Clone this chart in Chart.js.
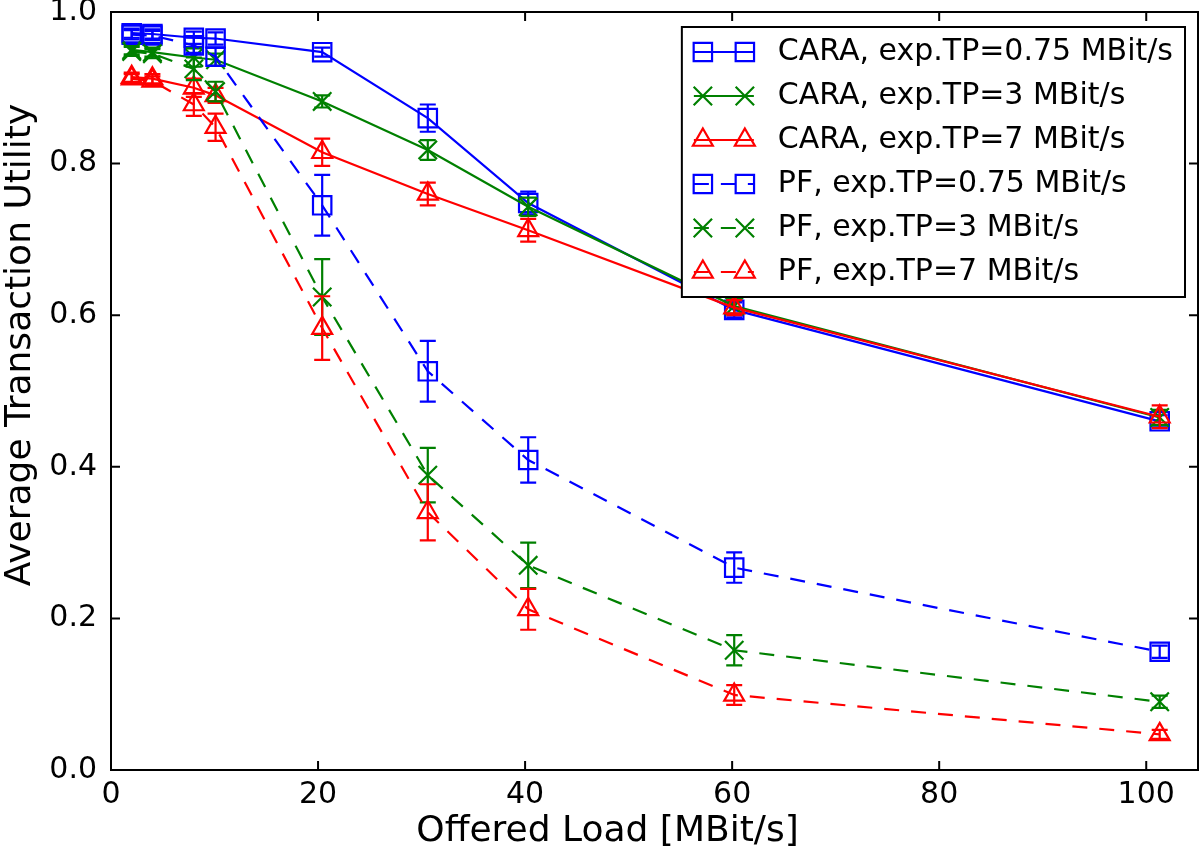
<!DOCTYPE html>
<html>
<head>
<meta charset="utf-8">
<title>Average Transaction Utility vs Offered Load</title>
<script src="https://cdn.jsdelivr.net/npm/chart.js@4.4.1/dist/chart.umd.min.js"></script>
<style>
  html, body { margin: 0; padding: 0; background: #fff; overflow: hidden; }
  #box { width: 1200px; height: 850px; }
  canvas { display: block; }
</style>
</head>
<body>
<div id="box"><canvas id="chart" width="1200" height="850"></canvas></div>
<script>
// offered load (x) shared by every series
const loads = [2, 4, 8, 10.1, 20.4, 30.6, 40.3, 60.2, 101.3];

const caraLow     = [0.972, 0.971, 0.966, 0.965, 0.947, 0.860, 0.748, 0.607, 0.460];
const caraLowErr  = [0.006, 0.006, 0.008, 0.008, 0.006, 0.018, 0.015, 0.010, 0.008];
const caraMid     = [0.950, 0.947, 0.940, 0.937, 0.882, 0.818, 0.743, 0.612, 0.465];
const caraMidErr  = [0.006, 0.006, 0.012, 0.008, 0.008, 0.013, 0.012, 0.010, 0.010];
const caraHigh    = [0.914, 0.912, 0.900, 0.890, 0.815, 0.760, 0.712, 0.610, 0.466];
const caraHighErr = [0.006, 0.006, 0.012, 0.010, 0.018, 0.015, 0.015, 0.010, 0.015];
const pfLow       = [0.970, 0.969, 0.956, 0.941, 0.745, 0.526, 0.409, 0.267, 0.156];
const pfLowErr    = [0.006, 0.006, 0.010, 0.012, 0.040, 0.040, 0.030, 0.020, 0.008];
const pfMid       = [0.948, 0.945, 0.925, 0.895, 0.624, 0.389, 0.270, 0.158, 0.090];
const pfMidErr    = [0.006, 0.006, 0.015, 0.013, 0.050, 0.036, 0.030, 0.020, 0.008];
const pfHigh      = [0.912, 0.909, 0.878, 0.848, 0.583, 0.340, 0.212, 0.099, 0.047];
const pfHighErr   = [0.006, 0.006, 0.015, 0.018, 0.042, 0.037, 0.027, 0.013, 0.006];

const xTicks = [0, 20, 40, 60, 80, 100];
const yTicks = [0.0, 0.2, 0.4, 0.6, 0.8, 1.0];
const xTitle = "Offered Load [MBit/s]";
const yTitle = "Average Transaction Utility";

const FONT = "'DejaVu Sans', 'Liberation Sans', sans-serif";
const BLUE = "#0000ff", GREEN = "#008000", RED = "#ff0000";
const DASH = [15, 12];
const LW = 2.2;

function series(label, ys, errs, color, style, radius, dashed) {
  return {
    label,
    data: loads.map((x, i) => ({ x, y: ys[i] })),
    errors: errs,
    borderColor: color,
    backgroundColor: color,
    borderWidth: LW,
    borderDash: dashed ? DASH : [],
    pointStyle: style,
    pointRadius: radius,
    pointHoverRadius: radius,
    pointBorderColor: color,
    pointBackgroundColor: "rgba(0,0,0,0)",
    pointBorderWidth: LW,
    fill: false,
    tension: 0,
    clip: false,
  };
}

const datasets = [
  series("CARA, exp.TP=0.75 MBit/s", caraLow, caraLowErr, BLUE, "rect", 13, false),
  series("CARA, exp.TP=3 MBit/s", caraMid, caraMidErr, GREEN, "crossRot", 13, false),
  series("CARA, exp.TP=7 MBit/s", caraHigh, caraHighErr, RED, "triangle", 11.5, false),
  series("PF, exp.TP=0.75 MBit/s", pfLow, pfLowErr, BLUE, "rect", 13, true),
  series("PF, exp.TP=3 MBit/s", pfMid, pfMidErr, GREEN, "crossRot", 13, true),
  series("PF, exp.TP=7 MBit/s", pfHigh, pfHighErr, RED, "triangle", 11.5, true),
];
// later series on top, like the original plot
datasets.forEach((d, i) => (d.order = datasets.length - 1 - i));

// vertical error bars with caps
const errorBars = {
  id: "errorBars",
  afterDatasetDraw(chart, args) {
    const ds = chart.data.datasets[args.index];
    if (!ds.errors) return;
    const { ctx, scales: { x, y } } = chart;
    ctx.save();
    ctx.strokeStyle = ds.borderColor;
    ctx.lineWidth = LW;
    ctx.setLineDash([]);
    ds.data.forEach((p, i) => {
      const e = ds.errors[i];
      const px = x.getPixelForValue(p.x);
      const y1 = y.getPixelForValue(p.y - e);
      const y2 = y.getPixelForValue(p.y + e);
      ctx.beginPath();
      ctx.moveTo(px, y1); ctx.lineTo(px, y2);
      ctx.moveTo(px - 8, y1); ctx.lineTo(px + 8, y1);
      ctx.moveTo(px - 8, y2); ctx.lineTo(px + 8, y2);
      ctx.stroke();
    });
    ctx.restore();
  }
};

// box round the plot with inward ticks on all four sides, plus axis titles
const frame = {
  id: "frame",
  afterDatasetsDraw(chart) {
    const { ctx, chartArea: a, scales: { x, y } } = chart;
    const t = 9;
    ctx.save();
    ctx.strokeStyle = "#000";
    ctx.lineWidth = 2;
    ctx.setLineDash([]);
    ctx.strokeRect(a.left, a.top, a.right - a.left, a.bottom - a.top);
    ctx.beginPath();
    xTicks.forEach(v => {
      const px = x.getPixelForValue(v);
      ctx.moveTo(px, a.bottom); ctx.lineTo(px, a.bottom - t);
      ctx.moveTo(px, a.top); ctx.lineTo(px, a.top + t);
    });
    yTicks.forEach(v => {
      const py = y.getPixelForValue(v);
      ctx.moveTo(a.left, py); ctx.lineTo(a.left + t, py);
      ctx.moveTo(a.right, py); ctx.lineTo(a.right - t, py);
    });
    ctx.stroke();

    // axis titles (sit a little up/left of the axis middle in the original)
    ctx.fillStyle = "#000";
    ctx.font = "36px " + FONT;
    ctx.textAlign = "center";
    ctx.textBaseline = "middle";
    ctx.fillText(xTitle, (a.left + a.right) / 2 - 47, 832);
    ctx.translate(21, (a.top + a.bottom) / 2 - 46);
    ctx.rotate(-Math.PI / 2);
    ctx.fillText(yTitle, 0, 0);
    ctx.restore();
  }
};

function marker(ctx, ds, px, py) {
  const opts = { pointStyle: ds.pointStyle, radius: ds.pointRadius, rotation: 0, borderWidth: LW };
  ctx.fillStyle = "rgba(0,0,0,0)";
  ctx.strokeStyle = ds.borderColor;
  ctx.lineWidth = LW;
  ctx.setLineDash([]);
  Chart.helpers.drawPoint(ctx, opts, px, py);
}

// legend in the upper right corner: line with two markers, then the label
const legendBox = {
  id: "legendBox",
  afterDraw(chart) {
    const { ctx, chartArea: a } = chart;
    const fs = 30, pad = 12, inner = 25, handle = 60, gap = 24, rowH = 44;
    ctx.save();
    ctx.font = fs + "px " + FONT;
    const items = chart.data.datasets;
    const textW = Math.max(...items.map(d => ctx.measureText(d.label).width));
    const right = a.right - 13;
    const top = a.top + 15;
    const left = right - (pad + handle + gap + textW + pad);
    const bottom = top + 2 * inner + rowH * (items.length - 1);
    ctx.fillStyle = "#fff";
    ctx.fillRect(left, top, right - left, bottom - top);
    ctx.strokeStyle = "#000";
    ctx.lineWidth = 2;
    ctx.strokeRect(left, top, right - left, bottom - top);
    items.forEach((d, i) => {
      const cy = top + inner + i * rowH;
      const x0 = left + pad;
      ctx.strokeStyle = d.borderColor;
      ctx.lineWidth = LW;
      ctx.setLineDash(d.borderDash);
      ctx.beginPath();
      ctx.moveTo(x0, cy); ctx.lineTo(x0 + handle, cy);
      ctx.stroke();
      marker(ctx, d, x0 + 9, cy);
      marker(ctx, d, x0 + handle - 9, cy);
      ctx.fillStyle = "#000";
      ctx.textAlign = "left";
      ctx.textBaseline = "middle";
      ctx.fillText(d.label, x0 + handle + gap, cy);
    });
    ctx.restore();
  }
};

new Chart(document.getElementById("chart"), {
  type: "line",
  data: { datasets },
  plugins: [errorBars, frame, legendBox],
  options: {
    responsive: false,
    animation: false,
    events: [],
    layout: { autoPadding: false, padding: { top: 12, right: 2, left: 0, bottom: 0 } },
    plugins: { legend: { display: false }, tooltip: { enabled: false } },
    scales: {
      x: {
        type: "linear",
        min: 0,
        max: 105,
        grid: { display: false, drawTicks: false },
        border: { display: false },
        afterBuildTicks: s => { s.ticks = xTicks.map(v => ({ value: v })); },
        afterFit: s => { s.height = 80; s.paddingLeft = 0; s.paddingRight = 0; },
        ticks: { color: "#000", font: { family: FONT, size: 30 }, padding: 7, maxRotation: 0, autoSkip: false }
      },
      y: {
        type: "linear",
        min: 0,
        max: 1,
        grid: { display: false, drawTicks: false },
        border: { display: false },
        afterBuildTicks: s => { s.ticks = yTicks.map(v => ({ value: v })); },
        afterFit: s => { s.width = 111; s.paddingTop = 0; s.paddingBottom = 0; },
        ticks: { color: "#000", font: { family: FONT, size: 30 }, padding: 14, callback: v => Number(v).toFixed(1) }
      }
    }
  }
});
</script>
</body>
</html>
